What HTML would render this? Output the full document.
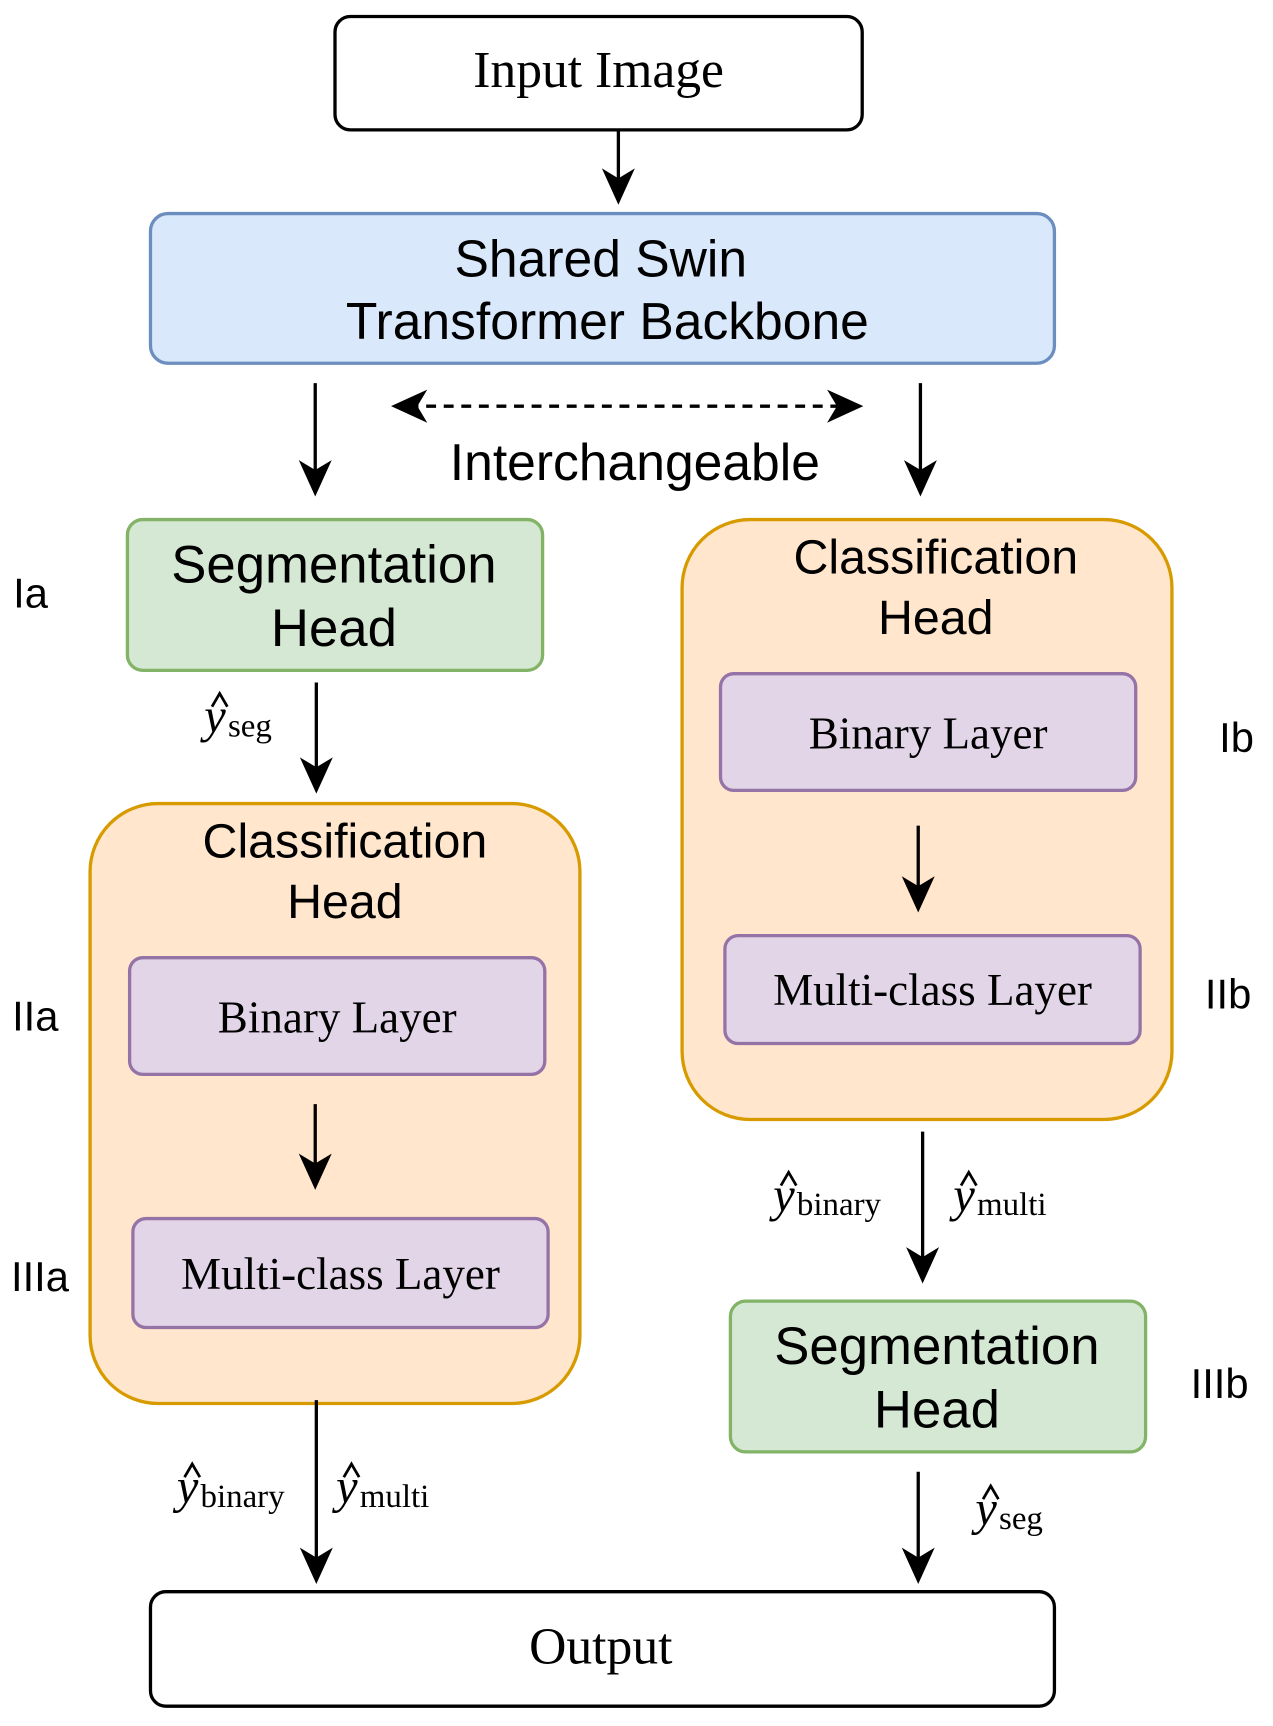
<!DOCTYPE html>
<html><head><meta charset="utf-8"><style>
html,body{margin:0;padding:0;background:#fff;}
svg{display:block;}
.s{font-family:"Liberation Sans",sans-serif;}
.r{font-family:"Liberation Serif",serif;}
</style></head><body>
<svg width="1273" height="1726" viewBox="0 0 1159 1568" preserveAspectRatio="none" xmlns="http://www.w3.org/2000/svg">
<g stroke-width="3">
<rect x="305" y="15" width="480" height="103" rx="14" fill="#fff" stroke="#000"/>
<rect x="137" y="194" width="823" height="136" rx="16" fill="#dae8fc" stroke="#6c8ebf"/>
<rect x="116" y="472" width="378" height="137" rx="14" fill="#d5e8d4" stroke="#82b366"/>
<rect x="82" y="730" width="446" height="545" rx="62" fill="#ffe6cc" stroke="#d79b00"/>
<rect x="118" y="870" width="378" height="106" rx="12" fill="#e1d5e7" stroke="#9673a6"/>
<rect x="121" y="1107" width="378" height="99" rx="12" fill="#e1d5e7" stroke="#9673a6"/>
<rect x="621" y="472" width="446" height="545" rx="62" fill="#ffe6cc" stroke="#d79b00"/>
<rect x="656" y="612" width="378" height="106" rx="12" fill="#e1d5e7" stroke="#9673a6"/>
<rect x="660" y="850" width="378" height="98" rx="12" fill="#e1d5e7" stroke="#9673a6"/>
<rect x="665" y="1182" width="378" height="137" rx="14" fill="#d5e8d4" stroke="#82b366"/>
<rect x="137" y="1446" width="823" height="104" rx="14" fill="#fff" stroke="#000"/>
</g>
<g stroke="#000" stroke-width="3" fill="none">
<line x1="563" y1="118" x2="563" y2="175"/>
<line x1="287" y1="348" x2="287" y2="440"/>
<line x1="838" y1="348" x2="838" y2="440"/>
<line x1="372" y1="369" x2="770" y2="369" stroke-dasharray="9,7"/>
<line x1="288" y1="620" x2="288" y2="710"/>
<line x1="287" y1="1003" x2="287" y2="1070"/>
<line x1="288" y1="1272" x2="288" y2="1428"/>
<line x1="836" y1="750" x2="836" y2="818"/>
<line x1="840" y1="1028" x2="840" y2="1155"/>
<line x1="836" y1="1337" x2="836" y2="1428"/>
</g>
<g fill="#000">
<path d="M548 153 L563 186 L578 153 L563 162 Z"/>
<path d="M272 418 L287 451 L302 418 L287 427 Z"/>
<path d="M823 418 L838 451 L853 418 L838 427 Z"/>
<path d="M356 369 L389 354 L380 369 L389 384 Z"/>
<path d="M786 369 L753 354 L762 369 L753 384 Z"/>
<path d="M273 688 L288 721 L303 688 L288 697 Z"/>
<path d="M272 1048 L287 1081 L302 1048 L287 1057 Z"/>
<path d="M273 1406 L288 1439 L303 1406 L288 1415 Z"/>
<path d="M821 796 L836 829 L851 796 L836 805 Z"/>
<path d="M825 1133 L840 1166 L855 1133 L840 1142 Z"/>
<path d="M821 1406 L836 1439 L851 1406 L836 1415 Z"/>
</g>
<g text-anchor="middle" fill="#000">
<text x="545" y="79" class="r" font-size="47">Input Image</text>
<text x="547" y="251" class="s" font-size="47">Shared Swin</text>
<text x="553" y="308" class="s" font-size="47">Transformer Backbone</text>
<text x="578" y="436" class="s" font-size="47">Interchangeable</text>
<text x="304" y="529" class="s" font-size="48">Segmentation</text>
<text x="304" y="587" class="s" font-size="48">Head</text>
<text x="314" y="779" class="s" font-size="44">Classification</text>
<text x="314" y="834" class="s" font-size="44">Head</text>
<text x="307" y="938" class="r" font-size="41">Binary Layer</text>
<text x="310" y="1171" class="r" font-size="41">Multi-class Layer</text>
<text x="852" y="521" class="s" font-size="44">Classification</text>
<text x="852" y="576" class="s" font-size="44">Head</text>
<text x="845" y="680" class="r" font-size="41">Binary Layer</text>
<text x="849" y="913" class="r" font-size="41">Multi-class Layer</text>
<text x="853" y="1239" class="s" font-size="48">Segmentation</text>
<text x="853" y="1297" class="s" font-size="48">Head</text>
<text x="547" y="1511" class="r" font-size="47">Output</text>
</g>
<g class="s" font-size="38" fill="#000">
<text x="12" y="552">Ia</text>
<text x="11" y="936">IIa</text>
<text x="10" y="1173">IIIa</text>
<text x="1110" y="683">Ib</text>
<text x="1097" y="916">IIb</text>
<text x="1084" y="1270">IIIb</text>
</g>
<g class="r" fill="#000" font-style="italic">
<text x="186" y="665" font-size="44">y<tspan font-style="normal" font-size="30" dx="2" dy="4">seg</tspan></text>
<text x="161" y="1365" font-size="44">y<tspan font-style="normal" font-size="30" dx="2" dy="4">binary</tspan></text>
<text x="306" y="1365" font-size="44">y<tspan font-style="normal" font-size="30" dx="2" dy="4">multi</tspan></text>
<text x="704" y="1100" font-size="44">y<tspan font-style="normal" font-size="30" dx="2" dy="4">binary</tspan></text>
<text x="868" y="1100" font-size="44">y<tspan font-style="normal" font-size="30" dx="2" dy="4">multi</tspan></text>
<text x="888" y="1385" font-size="44">y<tspan font-style="normal" font-size="30" dx="2" dy="4">seg</tspan></text>
</g>
<g stroke="#000" stroke-width="2.5" fill="none">
<path d="M193 642 L200 630 L207 642"/>
<path d="M168 1342 L175 1330 L182 1342"/>
<path d="M313 1342 L320 1330 L327 1342"/>
<path d="M711 1077 L718 1065 L725 1077"/>
<path d="M875 1077 L882 1065 L889 1077"/>
<path d="M895 1362 L902 1350 L909 1362"/>
</g>
</svg>
</body></html>
